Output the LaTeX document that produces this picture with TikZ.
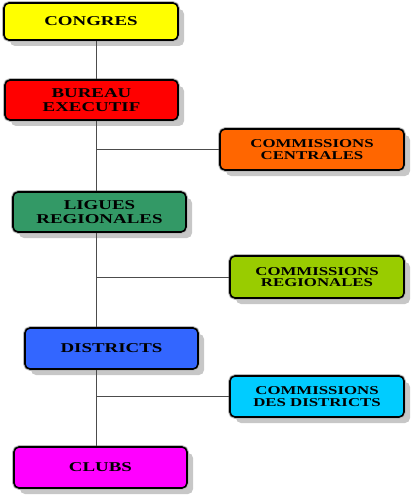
\documentclass[tikz,border=0pt]{standalone}
\usepackage{fontspec}
\setmainfont{Liberation Serif}[FakeStretch=1.4]
\usetikzlibrary{shadows}
\definecolor{cyel}{HTML}{FFFF00}
\definecolor{cred}{HTML}{FF0000}
\definecolor{corg}{HTML}{FF6600}
\definecolor{cgrn}{HTML}{339966}
\definecolor{clim}{HTML}{99CC00}
\definecolor{cblu}{HTML}{3366FF}
\definecolor{ccya}{HTML}{00CCFF}
\definecolor{cmag}{HTML}{FF00FF}
\tikzset{
  orgbox/.style={draw=black, line width=1.6pt, rounded corners=5pt,
    preaction={draw=gray!55, line width=3.6pt},
    drop shadow={shadow xshift=6pt, shadow yshift=-6pt, fill=gray!55, opacity=0.8},
    align=center, inner sep=0pt,
    font=\fontsize{13.5}{13.5}\selectfont\bfseries},
  combox/.style={orgbox, font=\fontsize{12}{11.5}\selectfont\bfseries},
  link/.style={draw=black!70, line width=0.9pt}
}
\begin{document}
\begin{tikzpicture}[x=1pt, y=-1pt]
\useasboundingbox (0,0) rectangle (415,497);
\node[orgbox, fill=cyel, minimum width=174pt, minimum height=37pt] (congres) at (91,21.5) {CONGRES};
\node[orgbox, fill=cred, minimum width=173pt, minimum height=40pt] (bureau) at (91.5,100) {BUREAU\\EXECUTIF};
\node[combox, fill=corg, minimum width=184pt, minimum height=41pt] (cc) at (312,149.5) {COMMISSIONS\\CENTRALES};
\node[orgbox, fill=cgrn, minimum width=173pt, minimum height=40pt] (ligues) at (99.5,212) {LIGUES\\REGIONALES};
\node[combox, fill=clim, minimum width=174pt, minimum height=42pt] (cr) at (317,277) {COMMISSIONS\\REGIONALES};
\node[orgbox, fill=cblu, minimum width=173pt, minimum height=41pt] (districts) at (111.5,348.5) {DISTRICTS};
\node[combox, fill=ccya, minimum width=174pt, minimum height=41pt] (cd) at (317,396.5) {COMMISSIONS\\DES DISTRICTS};
\node[orgbox, fill=cmag, minimum width=173pt, minimum height=41pt] (clubs) at (100.5,467.5) {CLUBS};
\coordinate (spine) at (96,0);
\path[link] (congres.south -| spine) -- (bureau.north -| spine);
\path[link] (bureau.south -| spine) -- (ligues.north -| spine);
\path[link] (ligues.south -| spine) -- (districts.north -| spine);
\path[link] (districts.south -| spine) -- (clubs.north -| spine);
\path[link] (spine |- cc.west) -- (cc.west);
\path[link] (spine |- cr.west) -- (cr.west);
\path[link] (spine |- cd.west) -- (cd.west);
\end{tikzpicture}
\end{document}
